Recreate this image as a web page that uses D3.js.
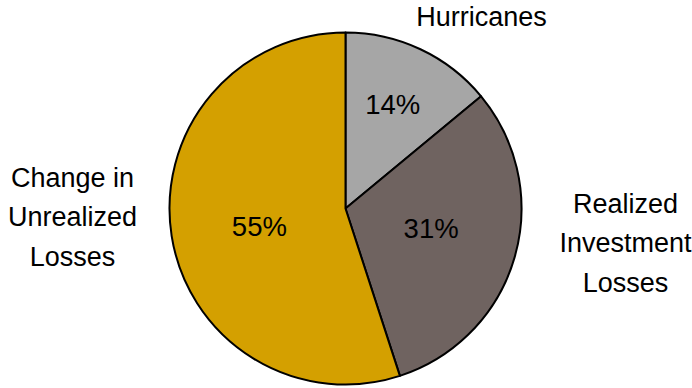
<!DOCTYPE html>
<html><head><meta charset="utf-8">
<script src="https://cdn.jsdelivr.net/npm/d3@7/dist/d3.min.js"></script>
<style>body{margin:0;background:#fff}svg{display:block}text{font-family:"Liberation Sans",Arial,sans-serif;fill:#000}</style>
</head><body><svg id="c" width="692" height="388"></svg>
<script>
const categories = ["Hurricanes", "Realized Investment Losses", "Change in Unrealized Losses"];
const values = [14, 31, 55];
const labelLines = [["Hurricanes"], ["Realized", "Investment", "Losses"], ["Change in", "Unrealized", "Losses"]];
const colors = ["#A6A6A6", "#6F6360", "#D4A000"];

const svg = d3.select("#c");
const cx = 345.5, cy = 208.5, R = 176;
const g = svg.append("g").attr("transform", `translate(${cx},${cy})`);
const pie = d3.pie().sort(null).value(d => d)(values);
const arc = d3.arc().innerRadius(0).outerRadius(R);
g.selectAll("path").data(pie).join("path")
  .attr("d", arc).attr("fill", (d, i) => colors[i])
  .attr("stroke", "#000").attr("stroke-width", 2).attr("stroke-linejoin", "round");

// percentage labels
const lf = [0.65, 0.5, 0.5];
g.selectAll("text.pct").data(pie).join("text").attr("class", "pct")
  .attr("transform", (d, i) => {
    const a = (d.startAngle + d.endAngle) / 2 - (i === 0 ? 0.015 : 0.05);
    const r = R * lf[i];
    return `translate(${r * Math.sin(a)},${-r * Math.cos(a)})`;
  })
  .attr("text-anchor", "middle").attr("dy", "0.35em")
  .style("font-size", "27.5px")
  .text(d => d.data + "%");

// outer category labels
const outer = [
  { x: cx + 136, y: 17 },
  { x: cx + 280, y: 243 },
  { x: cx - 273, y: 217 }
];
const lh = 39.5;
labelLines.forEach((lines, i) => {
  const t = svg.append("text").attr("text-anchor", "middle").style("font-size", "27px");
  lines.forEach((l, j) => {
    t.append("tspan").attr("x", outer[i].x)
      .attr("y", outer[i].y + (j - (lines.length - 1) / 2) * lh)
      .attr("dy", "0.35em").text(l);
  });
});
</script></body></html>
